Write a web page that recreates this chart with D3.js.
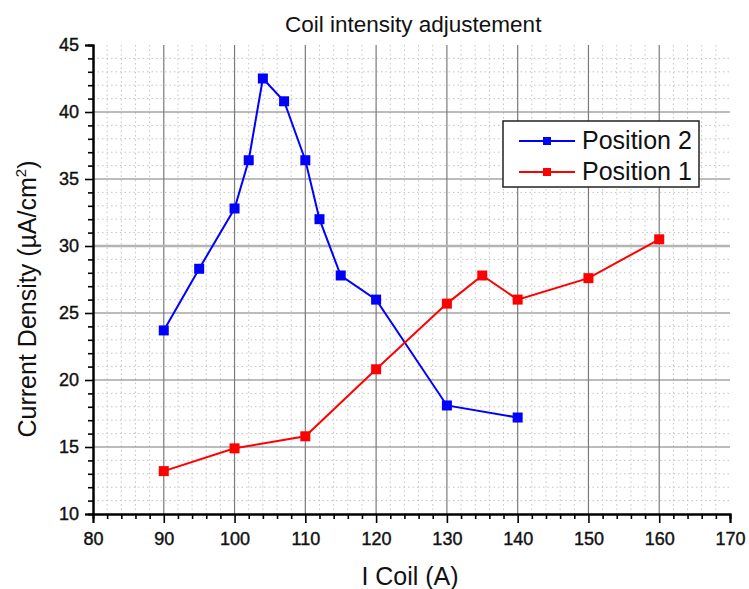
<html>
<head>
    <title>Coil intensity adjustement</title>
    <script src="https://d3js.org/d3.v7.min.js"></script>
    <style>
        body { margin: 0; background: white; font-family: "Liberation Sans", Arial, sans-serif; }
    </style>
</head>
<body>
    <svg id="chart" width="749" height="589"></svg>
    <script>
        // data
        const pos2Coil = [90, 95, 100, 102, 104, 107, 110, 112, 115, 120, 130, 140];
        const pos2Density = [23.7, 28.3, 32.8, 36.4, 42.5, 40.8, 36.4, 32.0, 27.8, 26.0, 18.1, 17.2];
        const pos1Coil = [90, 100, 110, 120, 130, 135, 140, 150, 160];
        const pos1Density = [13.2, 14.9, 15.8, 20.8, 25.7, 27.8, 26.0, 27.6, 30.5];
        const xTicks = [80, 90, 100, 110, 120, 130, 140, 150, 160, 170];
        const yTicks = [10, 15, 20, 25, 30, 35, 40, 45];

        const series = [
            { name: "Position 2", color: "#0000ff", pts: pos2Coil.map((c, i) => ({ x: c, y: pos2Density[i] })) },
            { name: "Position 1", color: "#ff0000", pts: pos1Coil.map((c, i) => ({ x: c, y: pos1Density[i] })) }
        ];

        const margin = { top: 45, right: 19, bottom: 75, left: 93 };
        const width = 749 - margin.left - margin.right;
        const height = 589 - margin.top - margin.bottom;

        const svg = d3.select("#chart")
            .append("g")
            .attr("transform", "translate(" + margin.left + "," + margin.top + ")");

        const x = d3.scaleLinear().domain([80, 170]).range([0, width]);
        const y = d3.scaleLinear().domain([10, 45]).range([height, 0]);

        // minor grid (dotted)
        const xMinor = d3.range(80, 170.1, 2).filter(v => v % 10 !== 0);
        const yMinor = d3.range(10, 45.1, 1).filter(v => v % 5 !== 0);
        svg.selectAll(".xminor").data(xMinor).enter().append("line")
            .attr("x1", d => x(d)).attr("x2", d => x(d))
            .attr("y1", 0).attr("y2", height)
            .attr("stroke", "#c4c4c4").attr("stroke-dasharray", "1.5,3");
        svg.selectAll(".yminor").data(yMinor).enter().append("line")
            .attr("x1", 0).attr("x2", width)
            .attr("y1", d => y(d)).attr("y2", d => y(d))
            .attr("stroke", "#c4c4c4").attr("stroke-dasharray", "1.5,3");

        // major grid
        svg.selectAll(".xmajor").data(xTicks.slice(1, -1)).enter().append("line")
            .attr("x1", d => x(d)).attr("x2", d => x(d))
            .attr("y1", 0).attr("y2", height)
            .attr("stroke", "#7a7a7a").attr("stroke-width", 1.2);
        svg.selectAll(".ymajor").data(yTicks.slice(1, -1)).enter().append("line")
            .attr("x1", 0).attr("x2", width)
            .attr("y1", d => y(d)).attr("y2", d => y(d))
            .attr("stroke", d => d === 30 ? "#b4b4b4" : "#7a7a7a")
            .attr("stroke-width", d => d === 30 ? 2.5 : 1.2);

        // axes
        svg.append("g")
            .attr("transform", "translate(0," + height + ")")
            .call(d3.axisBottom(x).tickValues(xTicks).tickSize(9).tickPadding(9));
        svg.append("g")
            .attr("transform", "translate(0," + height + ")")
            .call(d3.axisBottom(x).tickValues(xMinor).tickSize(5).tickFormat(""));
        svg.append("g")
            .call(d3.axisLeft(y).tickValues(yTicks).tickSize(8).tickPadding(6));
        svg.append("g")
            .call(d3.axisLeft(y).tickValues(yMinor).tickSize(5).tickFormat(""));

        svg.selectAll(".domain").attr("stroke", "#000").attr("stroke-width", 2);
        svg.selectAll(".tick line").attr("stroke", "#000").attr("stroke-width", 1.6);
        svg.selectAll(".tick text")
            .style("font-family", "'Liberation Sans', Arial, sans-serif")
            .style("font-size", "18px")
            .style("fill", "#111")
            .style("stroke", "#111")
            .style("stroke-width", 0.4);

        // lines and markers
        const line = d3.line().x(d => x(d.x)).y(d => y(d.y));
        series.forEach(s => {
            svg.append("path")
                .datum(s.pts)
                .attr("fill", "none")
                .attr("stroke", s.color)
                .attr("stroke-width", 2)
                .attr("d", line);
            svg.selectAll(null)
                .data(s.pts)
                .enter()
                .append("rect")
                .attr("x", d => x(d.x) - 5)
                .attr("y", d => y(d.y) - 5)
                .attr("width", 10)
                .attr("height", 10)
                .attr("fill", s.color);
        });

        // legend
        const legend = svg.append("g").attr("transform", "translate(" + (503 - margin.left) + "," + (121 - margin.top) + ")");
        legend.append("rect")
            .attr("width", 196).attr("height", 66)
            .attr("fill", "white").attr("stroke", "#222").attr("stroke-width", 1.5);
        series.forEach((s, i) => {
            const ly = 20 + i * 31;
            legend.append("line")
                .attr("x1", 16).attr("x2", 72).attr("y1", ly).attr("y2", ly)
                .attr("stroke", s.color).attr("stroke-width", 2);
            legend.append("rect")
                .attr("x", 40).attr("y", ly - 4).attr("width", 8).attr("height", 8)
                .attr("fill", s.color);
            legend.append("text")
                .attr("x", 79).attr("y", ly + 8)
                .style("font-size", "25px")
                .style("fill", "#111")
                .text(s.name);
        });

        // titles
        const root = d3.select("#chart");
        root.append("text")
            .attr("x", 285).attr("y", 32)
            .style("font-size", "22.5px")
            .style("fill", "#111")
            .text("Coil intensity adjustement");
        root.append("text")
            .attr("x", 410).attr("y", 585)
            .attr("text-anchor", "middle")
            .style("font-size", "25px")
            .style("fill", "#111")
            .text("I Coil (A)");
        const yt = root.append("text")
            .attr("transform", "translate(36,299) rotate(-90)")
            .attr("text-anchor", "middle")
            .style("font-size", "25px")
            .style("fill", "#111");
        yt.append("tspan").text("Current Density (µA/cm");
        yt.append("tspan").attr("dy", -10).style("font-size", "15px").text("2");
        yt.append("tspan").attr("dy", 10).text(")");
    </script>
</body>
</html>
